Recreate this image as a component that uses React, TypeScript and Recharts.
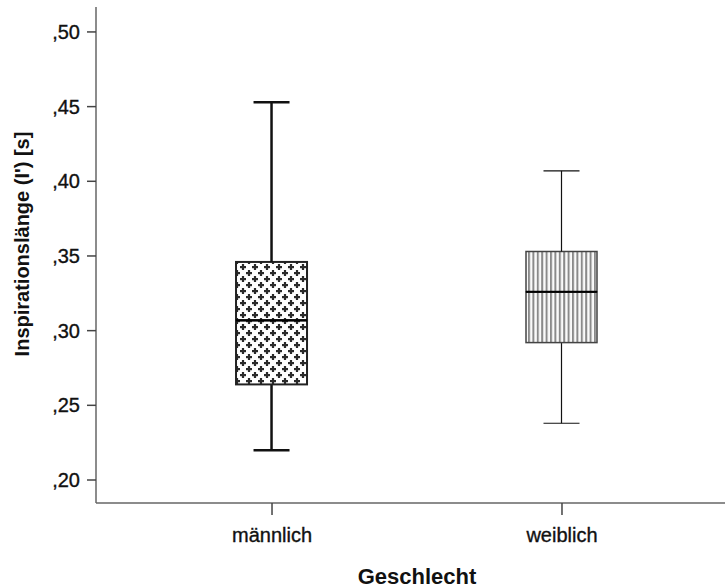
import { ComposedChart, Bar, XAxis, YAxis, Label } from "recharts";

// five-number summaries per group
const groups = ["männlich", "weiblich"];
const positions = [1, 2];
const minima = [0.22, 0.238];
const lowerQuartiles = [0.264, 0.292];
const medians = [0.307, 0.326];
const upperQuartiles = [0.346, 0.353];
const maxima = [0.453, 0.407];
const yTicks = [0.2, 0.25, 0.3, 0.35, 0.4, 0.45, 0.5];

const rows = groups.map((name, i) => ({
  name,
  x: positions[i],
  base: minima[i],
  lowWhisker: lowerQuartiles[i] - minima[i],
  lowBox: medians[i] - lowerQuartiles[i],
  highBox: upperQuartiles[i] - medians[i],
  highWhisker: maxima[i] - upperQuartiles[i],
}));

const looks = [
  { fill: "url(#crosses)", border: "#222", borderWidth: 2, whisker: 2.5 },
  { fill: "url(#stripes)", border: "#444", borderWidth: 1.5, whisker: 1.2 },
];

const FONT = "'Liberation Sans', Arial, sans-serif";
const CAP = 36;
const tickText = { fill: "#111", stroke: "#111", strokeWidth: 0.35, fontSize: 20, fontFamily: FONT };

const fmt = (v: number) => v.toFixed(2).replace(/^0/, "").replace(".", ",");

function Nothing() {
  return null;
}

function Whisker(props: any, top: boolean) {
  const { x, y, width, height, index } = props;
  const look = looks[index];
  const cx = x + width / 2;
  const capY = top ? y : y + height;
  return (
    <g stroke="#111" strokeWidth={look.whisker}>
      <line x1={cx} x2={cx} y1={y} y2={y + height} />
      <line x1={cx - CAP / 2} x2={cx + CAP / 2} y1={capY} y2={capY} />
    </g>
  );
}

function BoxHalf(props: any, upper: boolean) {
  const { x, y, width, height, index } = props;
  const look = looks[index];
  const medY = upper ? y + height : y;
  return (
    <g>
      <rect
        x={x}
        y={y}
        width={width}
        height={height}
        fill={look.fill}
        stroke={look.border}
        strokeWidth={look.borderWidth}
      />
      <line x1={x} x2={x + width} y1={medY} y2={medY} stroke="#000" strokeWidth={2} />
    </g>
  );
}

const YTitle = () => (
  <text
    transform="translate(29,244) rotate(-90)"
    textAnchor="middle"
    fill="#111"
    fontSize={20}
    fontWeight="bold"
    fontFamily={FONT}
  >
    Inspirationslänge (I') [s]
  </text>
);

export default function App() {
  return (
    <div
      style={{
        position: "fixed",
        left: 0,
        top: 0,
        width: 725,
        height: 588,
        overflow: "hidden",
        background: "#fff",
      }}
    >
      <ComposedChart
        width={738}
        height={588}
        data={rows}
        margin={{ top: 7, right: 0, bottom: 0, left: 0 }}
      >
        <defs>
          <pattern id="crosses" width={12} height={12} patternUnits="userSpaceOnUse">
            <rect width={12} height={12} fill="#fff" />
            <g fill="#2a2a2a">
              <rect x={0} y={2} width={6} height={2.2} />
              <rect x={1.9} y={0} width={2.2} height={6} />
              <rect x={6} y={8} width={6} height={2.2} />
              <rect x={7.9} y={6} width={2.2} height={6} />
            </g>
          </pattern>
          <pattern id="stripes" width={4.4} height={10} patternUnits="userSpaceOnUse">
            <rect width={4.4} height={10} fill="#fafafa" />
            <rect x={0} width={2} height={10} fill="#8a8a8a" />
          </pattern>
        </defs>
        <XAxis
          xAxisId="top"
          orientation="top"
          type="number"
          dataKey="x"
          domain={[0.393, 2.607]}
          height={0}
          tick={false}
          tickLine={false}
          axisLine={{ stroke: "#666", strokeWidth: 1.5 }}
        />
        <XAxis
          type="number"
          dataKey="x"
          domain={[0.393, 2.607]}
          ticks={positions}
          tickFormatter={(v: number) => groups[v - 1]}
          height={85}
          tickSize={12}
          tickMargin={13}
          axisLine={{ stroke: "#666", strokeWidth: 1.5 }}
          tickLine={{ stroke: "#444", strokeWidth: 1.5 }}
          tick={tickText}
        >
          <Label
            value="Geschlecht"
            position="insideBottom"
            offset={4}
            style={{ fill: "#111", fontSize: 22, fontWeight: "bold", fontFamily: FONT }}
          />
        </XAxis>
        <YAxis
          type="number"
          domain={[0.1846, 0.5167]}
          allowDataOverflow
          ticks={yTicks}
          tickFormatter={fmt}
          width={96}
          tickSize={9}
          tickMargin={7}
          axisLine={{ stroke: "#666", strokeWidth: 1.5 }}
          tickLine={{ stroke: "#444", strokeWidth: 1.5 }}
          tick={tickText}
        >
          <Label content={YTitle} />
        </YAxis>
        <Bar dataKey="base" stackId="box" barSize={71} shape={Nothing} isAnimationActive={false} />
        <Bar
          dataKey="lowWhisker"
          stackId="box"
          barSize={71}
          shape={(p: any) => Whisker(p, false)}
          isAnimationActive={false}
        />
        <Bar
          dataKey="lowBox"
          stackId="box"
          barSize={71}
          shape={(p: any) => BoxHalf(p, false)}
          isAnimationActive={false}
        />
        <Bar
          dataKey="highBox"
          stackId="box"
          barSize={71}
          shape={(p: any) => BoxHalf(p, true)}
          isAnimationActive={false}
        />
        <Bar
          dataKey="highWhisker"
          stackId="box"
          barSize={71}
          shape={(p: any) => Whisker(p, true)}
          isAnimationActive={false}
        />
      </ComposedChart>
    </div>
  );
}
